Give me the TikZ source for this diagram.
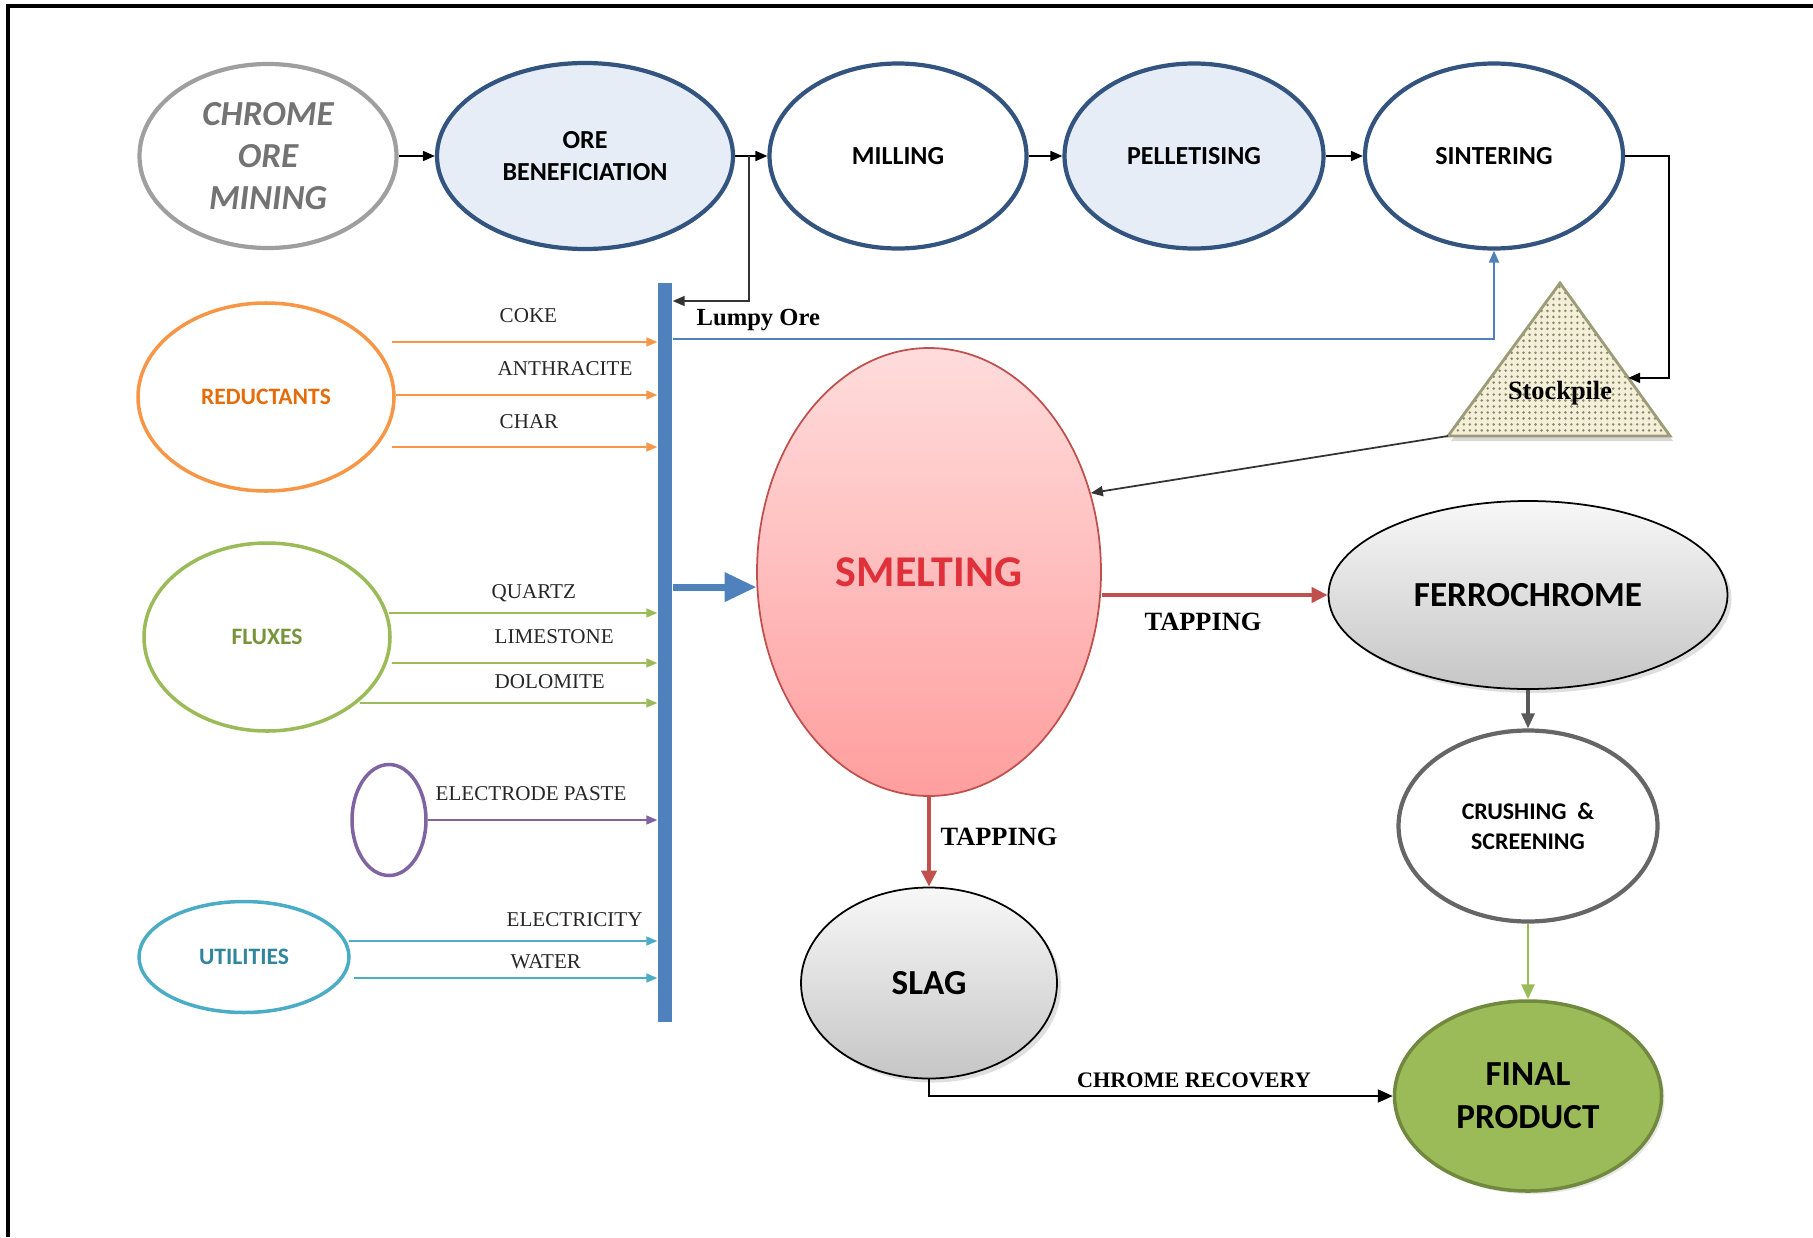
\documentclass[tikz,border=0pt]{standalone}
\usepackage{fontspec}
\setmainfont{Liberation Serif}
\newfontfamily\carlito{Carlito}
\usepackage{tikz}
\usetikzlibrary{calc, arrows.meta, patterns, shapes.geometric, shadows}
\usepackage{xcolor}

\definecolor{stepblue}{HTML}{33547F}
\definecolor{stepfill}{HTML}{E6EDF6}
\definecolor{barblue}{HTML}{4F81BD}
\definecolor{tapred}{HTML}{C0504D}
\definecolor{smelttop}{HTML}{FFDCDC}
\definecolor{smeltbottom}{HTML}{FF9E9E}
\definecolor{smelttext}{HTML}{E0313B}
\definecolor{reducorange}{HTML}{F79646}
\definecolor{reductext}{HTML}{E46C0A}
\definecolor{fluxgreen}{HTML}{9BBB59}
\definecolor{fluxtext}{HTML}{77933C}
\definecolor{pastepurple}{HTML}{8064A2}
\definecolor{utilteal}{HTML}{4BACC6}
\definecolor{utiltext}{HTML}{31859C}
\definecolor{finalborder}{HTML}{71893F}
\definecolor{pilefill}{HTML}{F4EFD8}
\definecolor{piledots}{HTML}{8A8A6A}
\definecolor{pileedge}{HTML}{9C9C78}
\definecolor{labeltext}{HTML}{262626}

\pgfdeclarepatternformonly{pilespeckle}{\pgfqpoint{-1pt}{-1pt}}{\pgfqpoint{1pt}{1pt}}{\pgfqpoint{1.7pt}{1.7pt}}{%
  \pgfpathcircle{\pgfqpoint{0pt}{0pt}}{0.4pt}\pgfusepath{fill}}

\tikzstyle{process} = [ellipse, draw=stepblue, line width=1.2pt, inner sep=0pt, align=center, minimum height=1.85cm, font=\carlito\bfseries\fontsize{7.4}{9}\selectfont]
\tikzstyle{source} = [ellipse, line width=1pt, inner sep=0pt, font=\carlito\bfseries\fontsize{6.7}{8}\selectfont]
\tikzstyle{product} = [ellipse, draw=black, line width=0.5pt, inner sep=0pt, align=center, top color=gray!6, bottom color=gray!45, drop shadow={opacity=0.25, shadow xshift=0.04cm, shadow yshift=-0.04cm}, font=\carlito\bfseries\fontsize{10}{12.2}\selectfont]
\tikzstyle{feedlabel} = [anchor=west, inner sep=0pt, text=labeltext, font=\fontsize{6}{7}\selectfont]
\tikzstyle{boldlabel} = [inner sep=0pt, text=black, font=\bfseries\fontsize{7.5}{9}\selectfont]
\tikzstyle{thinarrow} = [-{Triangle[length=1.2mm,width=1mm]}, line width=0.5pt]
\tikzstyle{feedarrow} = [-{Triangle[length=1.1mm,width=0.9mm]}, line width=0.45pt]
\tikzstyle{tapping} = [-{Triangle[length=1.6mm,width=1.5mm]}, line width=1.3pt, draw=tapred, color=tapred]

\begin{document}
\begin{tikzpicture}

        \useasboundingbox (0,0) rectangle (18.13,12.37);
        \draw[line width=0.9pt] (0.08,0) -- (0.08,12.31) -- (18.13,12.31);

        % top row
        \node (mining) [process, draw=gray!75, text=black!55, minimum width=2.57cm, minimum height=1.84cm, font=\carlito\bfseries\itshape\fontsize{10}{12}\selectfont] at (2.68,10.81) {CHROME\\ORE\\MINING};
        \node (benef) [process, fill=stepfill, minimum width=2.96cm, minimum height=1.86cm] at (5.85,10.81) {ORE\\BENEFICIATION};
        \node (milling) [process, fill=white, minimum width=2.57cm] at (8.98,10.81) {MILLING};
        \node (pellet) [process, fill=stepfill, minimum width=2.59cm] at (11.94,10.81) {PELLETISING};
        \node (sinter) [process, fill=white, minimum width=2.58cm] at (14.94,10.81) {SINTERING};

        \coordinate (split) at (7.49,10.81);

        % feed bar
        \node (bar) [rectangle, fill=barblue, inner sep=0pt, minimum width=0.14cm, minimum height=7.39cm] at (6.65,5.845) {};

        % stockpile
        \coordinate (pileT) at (15.60,9.54);
        \coordinate (pileL) at (14.48,8.01);
        \coordinate (pileR) at (16.70,8.01);
        \coordinate (pileIn) at ($(pileT)!0.62!(pileR)$);
        \draw[drop shadow={opacity=0.3, shadow xshift=0.03cm, shadow yshift=-0.05cm}, preaction={fill=pilefill}, pattern=pilespeckle, pattern color=piledots, draw=pileedge, line width=0.8pt] (pileT) -- (pileR) -- (pileL) -- cycle;
        \node (pile) [boldlabel] at (15.60,8.44) {Stockpile};

        % furnace and products
        \node (smelt) [ellipse, draw=tapred, line width=0.5pt, top color=smelttop, bottom color=smeltbottom, minimum width=3.44cm, minimum height=4.48cm, text=smelttext, font=\carlito\bfseries\fontsize{12.5}{14}\selectfont] at (9.29,6.65) {SMELTING};
        \node (ferro) [product, minimum width=3.99cm, minimum height=1.88cm] at (15.28,6.42) {FERROCHROME};
        \node (crush) [ellipse, draw=gray!80!black, line width=1.2pt, fill=white, inner sep=0pt, align=center, minimum width=2.59cm, minimum height=1.91cm, font=\carlito\bfseries\fontsize{6.8}{8.6}\selectfont] at (15.28,4.11) {CRUSHING \ \&\\SCREENING};
        \node (final) [ellipse, draw=finalborder, line width=1pt, fill=fluxgreen, inner sep=0pt, align=center, minimum width=2.67cm, minimum height=1.90cm, drop shadow={opacity=0.2, shadow xshift=0.03cm, shadow yshift=-0.03cm}, font=\carlito\bfseries\fontsize{10}{12.2}\selectfont] at (15.28,1.41) {FINAL\\PRODUCT};
        \node (slag) [product, minimum width=2.56cm, minimum height=1.91cm] at (9.29,2.54) {SLAG};

        % raw material sources
        \node (reduct) [source, draw=reducorange, text=reductext, minimum width=2.56cm, minimum height=1.88cm] at (2.66,8.40) {REDUCTANTS};
        \node (flux) [source, draw=fluxgreen, text=fluxtext, minimum width=2.46cm, minimum height=1.88cm] at (2.67,6.00) {FLUXES};
        \node (paste) [source, draw=pastepurple, minimum width=0.74cm, minimum height=1.11cm] at (3.89,4.17) {};
        \node (util) [source, draw=utilteal, text=utiltext, minimum width=2.10cm, minimum height=1.11cm] at (2.44,2.80) {UTILITIES};

        \node (coke) [feedlabel] at (4.99,9.21) {COKE};
        \node (anthracite) [feedlabel] at (4.97,8.68) {ANTHRACITE};
        \node (char) [feedlabel] at (4.99,8.15) {CHAR};
        \node (quartz) [feedlabel] at (4.91,6.44) {QUARTZ};
        \node (limestone) [feedlabel] at (4.94,6.00) {LIMESTONE};
        \node (dolomite) [feedlabel] at (4.94,5.55) {DOLOMITE};
        \node (electrode) [feedlabel] at (4.35,4.43) {ELECTRODE PASTE};
        \node (electricity) [feedlabel] at (5.06,3.17) {ELECTRICITY};
        \node (water) [feedlabel] at (5.10,2.75) {WATER};

        \node (lumpy) [boldlabel, anchor=west, font=\bfseries\fontsize{7}{8}\selectfont] at (6.96,9.17) {Lumpy Ore};
        \node (tapright) [boldlabel] at (12.03,6.15) {TAPPING};
        \node (tapdown) [boldlabel, anchor=west] at (9.40,4.00) {TAPPING};
        \node (recovery) [boldlabel, font=\bfseries\fontsize{6.3}{7.5}\selectfont] at (11.94,1.57) {CHROME RECOVERY};

        % top row flow
        \draw[thinarrow] (mining) -- (benef);
        \draw[thinarrow] (benef) -- (milling);
        \draw[thinarrow] (milling) -- (pellet);
        \draw[thinarrow] (pellet) -- (sinter);
        \draw[thinarrow, draw=black!80] (split) |- (bar.east |- 0,9.36);
        \draw[thinarrow, draw=barblue, color=barblue, line width=0.6pt] (bar.east |- 0,8.98) -| (sinter.south);
        \draw[thinarrow, line width=0.6pt] (sinter.east) -- ++(0.44,0) |- (pileIn);
        \draw[thinarrow, draw=black!80] (pileL) -- (smelt.26);

        % feeds into the bar
        \draw[feedarrow, draw=reducorange, color=reducorange] ($(reduct.east)+(-0.04,0.55)$) -- (bar.west |- 0,8.95);
        \draw[feedarrow, draw=reducorange, color=reducorange] ($(reduct.east)+(0,0.02)$) -- (bar.west |- 0,8.42);
        \draw[feedarrow, draw=reducorange, color=reducorange] ($(reduct.east)+(-0.04,-0.50)$) -- (bar.west |- 0,7.90);
        \draw[feedarrow, draw=fluxgreen, color=fluxgreen] ($(flux.east)+(-0.03,0.24)$) -- (bar.west |- 0,6.24);
        \draw[feedarrow, draw=fluxgreen, color=fluxgreen] ($(flux.east)+(0,-0.26)$) -- (bar.west |- 0,5.74);
        \draw[feedarrow, draw=fluxgreen, color=fluxgreen] ($(flux.east)+(-0.32,-0.66)$) -- (bar.west |- 0,5.34);
        \draw[feedarrow, draw=pastepurple, color=pastepurple] (paste.east) -- (bar.west |- paste.east);
        \draw[feedarrow, draw=utilteal, color=utilteal] ($(util.east)+(-0.02,0.16)$) -- (bar.west |- 0,2.96);
        \draw[feedarrow, draw=utilteal, color=utilteal] ($(util.east)+(0.03,-0.21)$) -- (bar.west |- 0,2.59);

        % furnace outputs
        \draw[-{Triangle[length=3.2mm,width=2.8mm]}, draw=barblue, color=barblue, line width=2pt] (bar.east |- smelt.185) -- (smelt.185);
        \draw[tapping] (smelt.east |- ferro.west) -- (ferro.west);
        \draw[tapping] (smelt.south) -- (slag.north);
        \draw[-{Triangle[length=1.5mm,width=1.3mm]}, draw=black!65, color=black!65, line width=0.9pt] (ferro.south) -- (crush.north);
        \draw[-{Triangle[length=1.5mm,width=1.3mm]}, draw=fluxgreen, color=fluxgreen, line width=0.8pt] (crush.south) -- (final.north);
        \draw[-{Triangle[length=1.5mm,width=1.3mm]}, line width=0.6pt] (slag.south) |- (final.west);

    \end{tikzpicture}
\end{document}
